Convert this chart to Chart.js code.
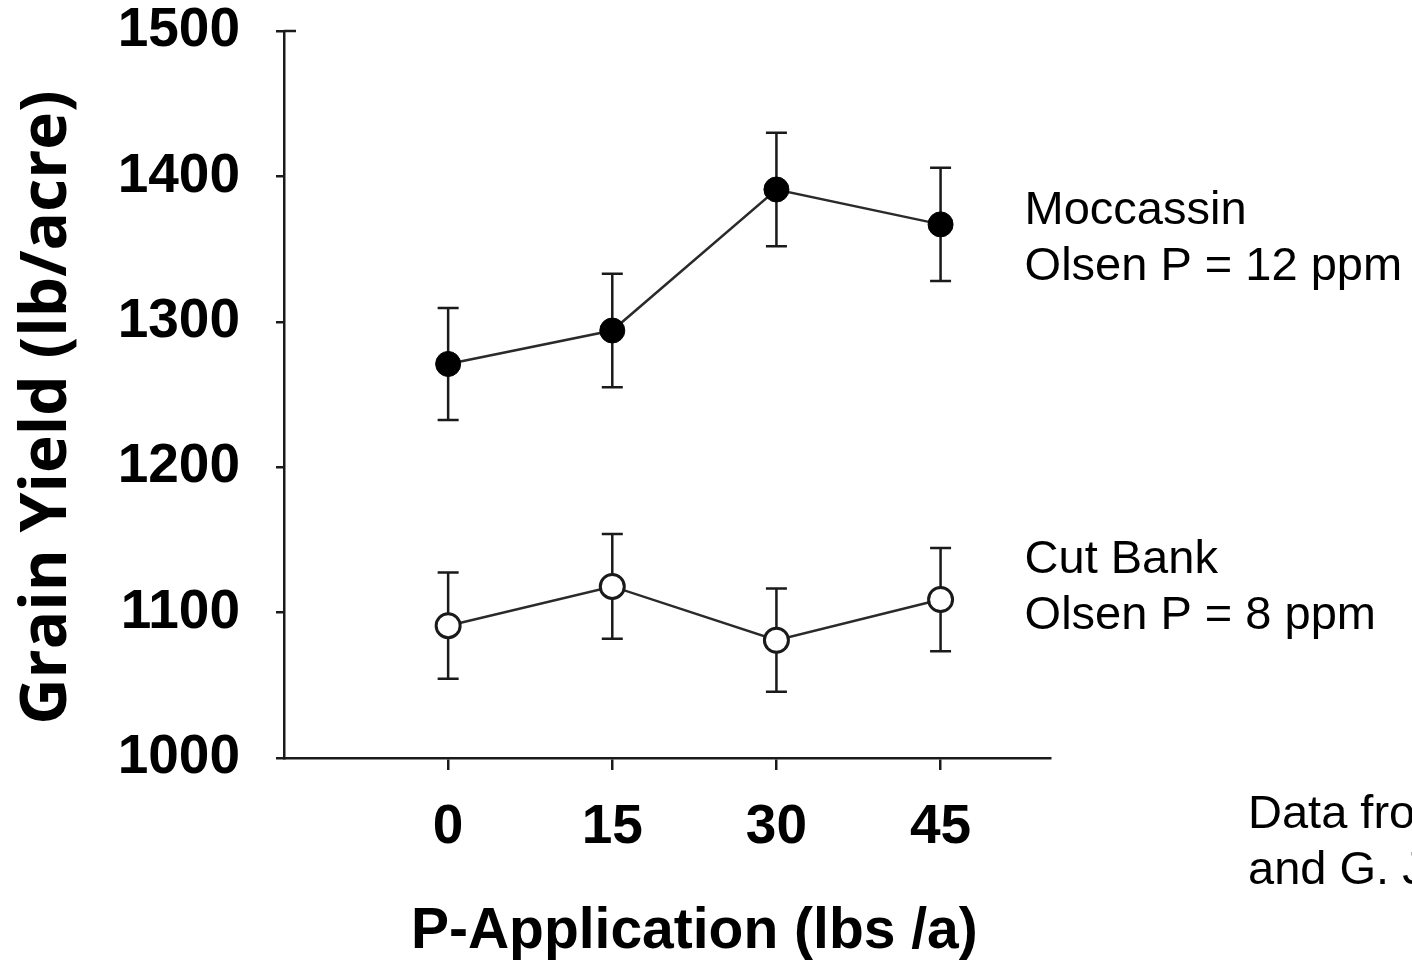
<!DOCTYPE html>
<html>
<head>
<meta charset="utf-8">
<script src="https://cdn.jsdelivr.net/npm/chart.js@4.4.1/dist/chart.umd.min.js"></script>
<style>
  body { margin: 0; background: #fff; }
  #wrap { width: 1412px; height: 962px; position: relative; }
</style>
</head>
<body>
<div id="wrap"><canvas id="yieldChart"></canvas></div>
<script>
// P rate (lbs/a)
const pRates = [0, 15, 30, 45];
const yTicks = [1000, 1100, 1200, 1300, 1400, 1500];

// grain yield (lb/acre) and error bar half-widths
const moccassinYield = [1271, 1294, 1391, 1367];
const moccassinErr = [38.5, 39, 39, 39];
const cutBankYield = [1091, 1118, 1081, 1109];
const cutBankErr = [36.5, 36, 35.5, 35.5];

const moccassinLabel = ['Moccassin', 'Olsen P = 12 ppm'];
const cutBankLabel = ['Cut Bank', 'Olsen P = 8 ppm'];
const sourceNote = ['Data from', 'and G. J'];
const xTitle = 'P-Application (lbs /a)';
const yTitle = 'Grain Yield (lb/acre)';

const ink = '#1a1a1a';
const sans = 'Arial, "Liberation Sans", sans-serif';

const toPoints = (ys) => pRates.map((x, i) => ({ x: x, y: ys[i] }));

// draws the vertical error bars with caps, under the points
const errorBars = {
  id: 'errorBars',
  beforeDatasetsDraw(chart) {
    const { ctx, scales: { x, y } } = chart;
    const errs = [moccassinErr, cutBankErr];
    ctx.save();
    ctx.strokeStyle = ink;
    ctx.lineWidth = 2.5;
    chart.data.datasets.forEach((ds, d) => {
      ds.data.forEach((p, i) => {
        const px = x.getPixelForValue(p.x);
        const top = y.getPixelForValue(p.y + errs[d][i]);
        const bot = y.getPixelForValue(p.y - errs[d][i]);
        ctx.beginPath();
        ctx.moveTo(px, top); ctx.lineTo(px, bot);
        ctx.moveTo(px - 10.5, top); ctx.lineTo(px + 10.5, top);
        ctx.moveTo(px - 10.5, bot); ctx.lineTo(px + 10.5, bot);
        ctx.stroke();
      });
    });
    ctx.restore();
  }
};

// series labels, source note, axis titles and the little cap at the top of the y axis
const extras = {
  id: 'extras',
  afterDraw(chart) {
    const { ctx, scales: { x, y } } = chart;
    ctx.save();
    ctx.fillStyle = '#000';
    ctx.textBaseline = 'middle';
    ctx.textAlign = 'left';
    ctx.font = '47px ' + sans;
    const lineGap = 56;
    const lx = x.getPixelForValue(45) + 84;
    moccassinLabel.forEach((t, i) => ctx.fillText(t, lx, 211 + i * lineGap));
    cutBankLabel.forEach((t, i) => ctx.fillText(t, lx, 560 + i * lineGap));
    sourceNote.forEach((t, i) => ctx.fillText(t, 1248, 815 + i * lineGap));

    ctx.textAlign = 'center';
    ctx.font = 'bold 57px ' + sans;
    const cx = (x.getPixelForValue(pRates[0]) + x.getPixelForValue(pRates[pRates.length - 1])) / 2;
    ctx.fillText(xTitle, cx, 932);

    ctx.save();
    ctx.translate(48, (y.top + y.bottom) / 2 + 13);
    ctx.rotate(-Math.PI / 2);
    ctx.font = 'bold 64px "Open Sans", Lato, sans-serif';
    ctx.fillText(yTitle, 0, 0);
    ctx.restore();

    ctx.strokeStyle = ink;
    ctx.lineWidth = 2.5;
    const ty = y.getPixelForValue(yTicks[yTicks.length - 1]);
    ctx.beginPath();
    ctx.moveTo(x.left, ty); ctx.lineTo(x.left + 12, ty);
    ctx.stroke();
    ctx.restore();
  }
};

new Chart(document.getElementById('yieldChart'), {
  type: 'line',
  data: {
    datasets: [
      {
        label: 'Moccassin',
        data: toPoints(moccassinYield),
        borderColor: '#2a2a2a',
        borderWidth: 2.5,
        pointRadius: 12.5,
        pointBackgroundColor: '#000',
        pointBorderColor: '#000',
        pointBorderWidth: 1
      },
      {
        label: 'Cut Bank',
        data: toPoints(cutBankYield),
        borderColor: '#2a2a2a',
        borderWidth: 2.5,
        pointRadius: 12,
        pointBackgroundColor: '#fff',
        pointBorderColor: ink,
        pointBorderWidth: 3
      }
    ]
  },
  options: {
    responsive: true,
    maintainAspectRatio: false,
    animation: false,
    layout: { padding: { top: 31, right: 362, left: 0, bottom: 0 } },
    plugins: { legend: { display: false }, tooltip: { enabled: false } },
    scales: {
      x: {
        type: 'linear',
        min: -15,
        max: 55,
        afterBuildTicks: (s) => { s.ticks = pRates.map(v => ({ value: v })); },
        afterFit: (s) => { s.height = 204; s.paddingLeft = 0; s.paddingRight = 0; },
        grid: { display: true, drawOnChartArea: false, drawTicks: true, tickLength: 12, color: ink, lineWidth: 2.5 },
        border: { display: true, color: ink, width: 2.5 },
        ticks: {
          color: '#000',
          padding: 30,
          callback: (v) => String(v),
          font: { family: sans, size: 55, weight: 'bold', lineHeight: 1 }
        }
      },
      y: {
        min: 1000,
        max: 1500,
        afterBuildTicks: (s) => { s.ticks = yTicks.map(v => ({ value: v })); },
        afterFit: (s) => { s.width = 284; s.paddingTop = 0; s.paddingBottom = 0; },
        grid: { display: true, drawOnChartArea: false, drawTicks: true, tickLength: 8, color: ink, lineWidth: 2.5 },
        border: { display: true, color: ink, width: 2.5 },
        ticks: {
          color: '#000',
          padding: 36,
          callback: (v) => String(v),
          font: { family: sans, size: 55, weight: 'bold', lineHeight: 1 }
        }
      }
    }
  },
  plugins: [errorBars, extras]
});
</script>
</body>
</html>
